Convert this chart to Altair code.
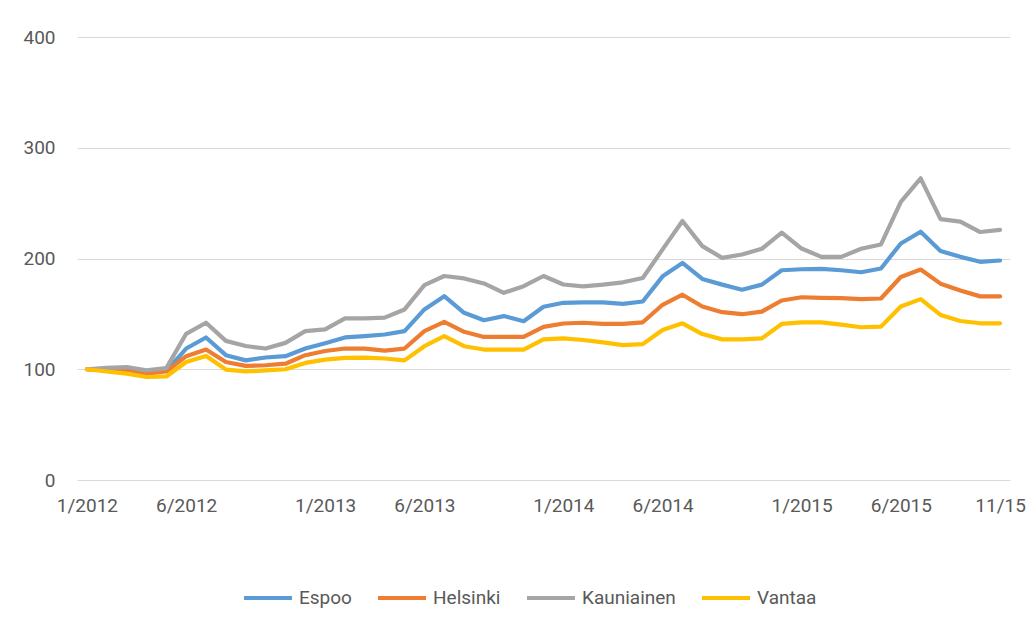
import altair as alt
import pandas as pd

months = [f"{m}/{y}" for y in range(2012, 2016) for m in range(1, 13)][:47]

espoo = [100, 99.5, 98.9, 98, 98.5, 118.7, 128.7, 112.7, 108, 110.6, 111.8, 118.7,
         123.5, 128.7, 129.9, 131.4, 134.4, 154, 166, 151, 144.3, 148, 143.4, 156.4,
         160, 160.3, 160.3, 159, 161.2, 183.9, 196, 181.5, 176.4, 171.8, 176.4, 189.4,
         190.3, 190.6, 189.4, 187.6, 191, 213.6, 224.2, 206.7, 201.5, 197, 198.2]
helsinki = [100, 98.9, 98, 96, 98, 111.8, 117.8, 106.6, 103, 103.6, 105, 112.7,
            116.5, 118.7, 118.7, 116.8, 118.7, 134.4, 142.8, 133.8, 129.2, 129.2, 129.2, 138.3,
            141.3, 142, 140.9, 141, 142.4, 158.2, 167.3, 156.7, 151.5, 149.7, 152.1, 162.1,
            165, 164.5, 164.2, 163.3, 163.9, 183.3, 190, 177.3, 171.2, 165.8, 165.8]
kauniainen = [100, 101.2, 102, 99, 101, 132, 142, 125.6, 121, 118.7, 123.8, 134.4,
              136, 145.9, 146, 146.6, 154, 176, 184.2, 182, 177.5, 169, 175, 184.2,
              176.5, 174.8, 176.4, 178.5, 182.4, 208.2, 233.9, 211.2, 200.6, 203.6, 208.8, 223.3,
              209, 201.5, 201.5, 208.8, 212.7, 251.2, 272.4, 235.5, 233.3, 223.9, 225.8]
vantaa = [100, 98, 96, 93, 93.5, 106.6, 112, 99.7, 98, 98.9, 100, 105.7,
          108.7, 110.2, 110.5, 109.7, 108, 120.8, 129.9, 120.8, 117.8, 117.8, 117.8, 126.9,
          127.8, 126.4, 124.2, 121.8, 122.7, 135.5, 141.5, 131.8, 127, 127, 127.9, 140.9,
          142.4, 142.4, 140.3, 137.9, 138.5, 156.7, 163.3, 149, 143.6, 141.5, 141.5]

series_names = ["Espoo", "Helsinki", "Kauniainen", "Vantaa"]
series_colors = ["#5B9BD5", "#ED7D31", "#A5A5A5", "#FFC000"]

tick_index = [0, 5, 12, 17, 24, 29, 36, 41, 46]
tick_labels = ["1/2012", "6/2012", "1/2013", "6/2013", "1/2014", "6/2014", "1/2015", "6/2015", "11/15"]

rows = []
for name, vals in zip(series_names, [espoo, helsinki, kauniainen, vantaa]):
    for i, v in enumerate(vals):
        rows.append({"idx": i, "month": months[i], "series": name, "value": v})
df = pd.DataFrame(rows)

label_expr = "[" + ",".join(f"'{t}'" for t in tick_labels) + "][indexof([" + \
    ",".join(str(t) for t in tick_index) + "], datum.value)]"

FONT = "Roboto"
TXT = "#595959"

chart = alt.Chart(df).mark_line(strokeWidth=4.2, strokeJoin="round", strokeCap="round").encode(
    x=alt.X("idx:Q",
            scale=alt.Scale(domain=[-0.5, 46.5], nice=False, zero=False),
            axis=alt.Axis(values=tick_index, labelExpr=label_expr, title=None, grid=False,
                          domain=False, ticks=False, labelPadding=16, labelFontSize=19,
                          labelColor=TXT, labelFont=FONT, labelFlush=False, labelOverlap=False)),
    y=alt.Y("value:Q",
            scale=alt.Scale(domain=[0, 400], nice=False),
            axis=alt.Axis(values=[0, 100, 200, 300, 400], title=None, grid=True,
                          gridColor="#D9D9D9", gridWidth=1, domain=False, ticks=False,
                          labelPadding=22, labelFontSize=19, labelColor=TXT, labelFont=FONT)),
    color=alt.Color("series:N",
                    scale=alt.Scale(domain=series_names, range=series_colors),
                    legend=alt.Legend(title=None, orient="none", direction="horizontal",
                                      legendX=165, legendY=535, symbolType="stroke",
                                      symbolSize=2300, symbolStrokeWidth=4,
                                      labelFontSize=19, labelColor=TXT, labelFont=FONT,
                                      labelOffset=5, columnPadding=18)),
    order="idx:Q",
).properties(
    width=933, height=443,
    autosize=alt.AutoSizeParams(type="none"),
    padding={"left": 69, "top": 29, "right": 16, "bottom": 130},
).configure_view(stroke=None)

chart.save("out.html", embed_options={"renderer": "svg", "actions": False})
